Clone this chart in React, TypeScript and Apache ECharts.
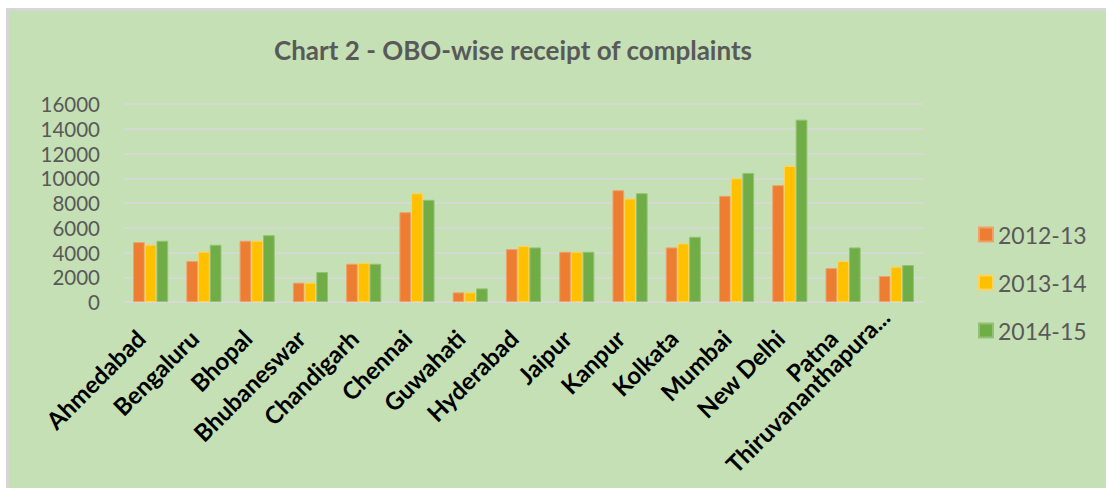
import React, { useEffect, useRef } from "react";
import * as echarts from "echarts";

const categories = [
  "Ahmedabad", "Bengaluru", "Bhopal", "Bhubaneswar", "Chandigarh", "Chennai", "Guwahati",
  "Hyderabad", "Jaipur", "Kanpur", "Kolkata", "Mumbai", "New Delhi", "Patna", "Thiruvananthapuram",
];
const seriesNames = ["2012-13", "2013-14", "2014-15"];
const values2012 = [4840, 3310, 4950, 1560, 3090, 7260, 780, 4275, 4060, 9035, 4410, 8580, 9440, 2740, 2100];
const values2013 = [4625, 4060, 4950, 1560, 3170, 8790, 780, 4520, 4060, 8360, 4730, 10000, 11000, 3310, 2850];
const values2014 = [4950, 4625, 5400, 2420, 3090, 8255, 1100, 4410, 4060, 8790, 5270, 10430, 14735, 4410, 2985];
const colors = ["#ED7D31", "#FFC000", "#70AD47"];
const borderColors = ["#F2A06E", "#FFD35C", "#93C274"];
const titleText = "Chart 2 - OBO-wise receipt of complaints";

export default function App() {
  const ref = useRef<HTMLDivElement>(null);
  useEffect(() => {
    if (!ref.current) return;
    const chart = echarts.init(ref.current, null, { renderer: "svg" });
    const allValues = [values2012, values2013, values2014];
    const axisData = categories.map((c) =>
      c.length > 17
        ? { value: c, textStyle: { padding: [0, 0, 4, 0], verticalAlign: "bottom" } }
        : c
    );
    chart.setOption({
      animation: false,
      backgroundColor: "#C5E0B4",
      textStyle: { fontFamily: "Lato" },
      graphic: [
        {
          type: "text",
          x: 504,
          y: 39,
          style: {
            text: titleText,
            fill: "#595959",
            font: "bold 26px Lato",
            textAlign: "center",
            textVerticalAlign: "middle",
          },
        },
      ],
      legend: {
        orient: "vertical",
        left: 964,
        top: 207,
        itemWidth: 14,
        itemHeight: 14,
        itemGap: 25,
        icon: "rect",
        data: seriesNames,
        textStyle: { color: "#595959", fontSize: 23, fontFamily: "Lato" },
      },
      grid: {
        left: 115,
        right: 183,
        top: 93,
        bottom: 186,
        containLabel: false,
        outerBoundsMode: "none",
      },
      xAxis: {
        type: "category",
        data: axisData,
        axisLine: { show: true, lineStyle: { color: "#D9D9D9", width: 1.5 } },
        axisTick: { show: false },
        axisLabel: {
          interval: 0,
          rotate: 45,
          margin: 22,
          padding: [0, 14, 0, 0],
          color: "#000000",
          fontWeight: "bold",
          fontSize: 24,
          fontFamily: "Lato",
          formatter: (v: string) => (v.length > 17 ? v.slice(0, 17) + "..." : v),
        },
      },
      yAxis: {
        type: "value",
        min: 0,
        max: 16000,
        interval: 2000,
        axisLine: { show: false },
        axisTick: { show: false },
        splitLine: { lineStyle: { color: "#D9D9D9", width: 1.5 } },
        axisLabel: {
          color: "#595959",
          fontSize: 20.5,
          fontFamily: "Lato",
          margin: 24,
          formatter: (v: number) => String(v),
        },
      },
      series: seriesNames.map((name, i) => ({
        name,
        type: "bar",
        data: allValues[i],
        barGap: "0%",
        barCategoryGap: "34%",
        itemStyle: { color: colors[i], borderColor: borderColors[i], borderWidth: 1 },
      })),
    });
    return () => chart.dispose();
  }, []);
  return (
    <div style={{ position: "absolute", left: 0, top: 0, width: 1106, height: 490, background: "#FFFFFF" }}>
      <div
        style={{
          position: "absolute",
          left: 6,
          top: 8,
          width: 1100,
          height: 480,
          boxSizing: "border-box",
          borderLeft: "3px solid #D6D6D6",
          borderTop: "3px solid #D6D6D6",
        }}
      />
      <div ref={ref} style={{ position: "absolute", left: 9, top: 11, width: 1097, height: 477 }} />
    </div>
  );
}
